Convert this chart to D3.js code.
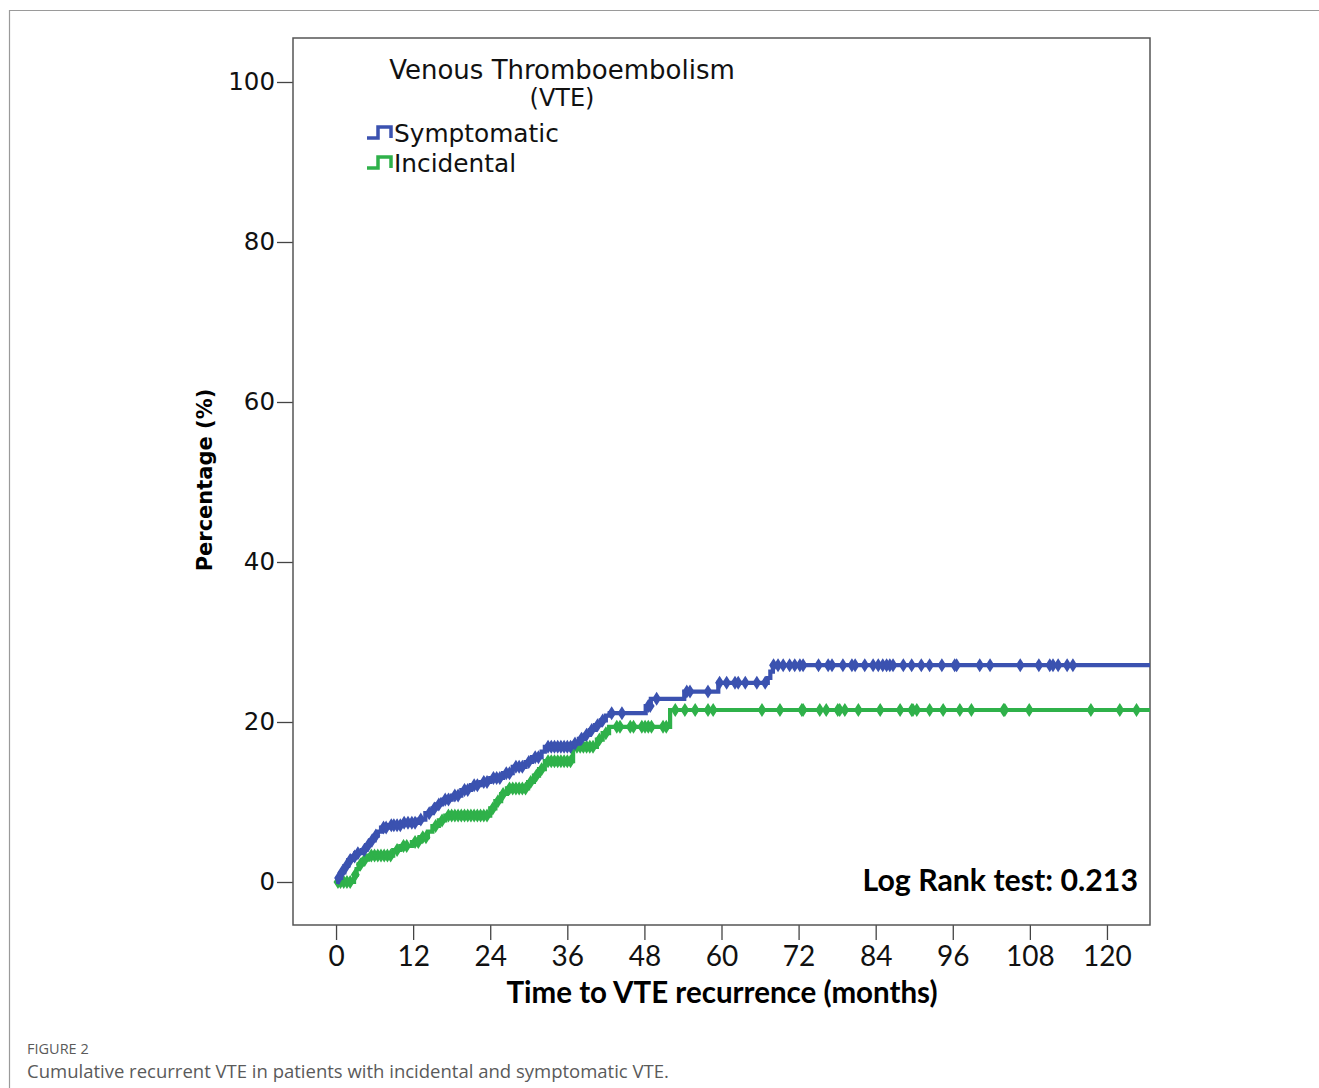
<!DOCTYPE html>
<html>
<head>
<meta charset="utf-8">
<script src="https://cdn.jsdelivr.net/npm/d3@7"></script>
<style>
  body { margin: 0; background: #fff; }
  svg { display: block; }
</style>
</head>
<body>
<script>
// step data: [months, cumulative %]
const symptomaticSteps = [
  [0, 0], [0.3, 0.5], [0.8, 1.2], [1.3, 2.0], [1.9, 2.75], [2.5, 3.2], [3.0, 3.6],
  [4.0, 4.0], [4.7, 4.6], [5.3, 5.2], [6.0, 5.8], [6.5, 6.3], [7.0, 6.8], [8.2, 7.1],
  [10.3, 7.4], [12.8, 7.8], [13.9, 8.6], [15.0, 9.2], [15.6, 9.7], [16.5, 10.3],
  [18.0, 10.8], [19.5, 11.5], [21.0, 12.1], [22.5, 12.5], [24.0, 13.0], [26.0, 13.6],
  [27.5, 14.4], [29.5, 15.0], [30.5, 15.6], [32.0, 16.3], [32.5, 16.9], [36.9, 17.3],
  [37.8, 17.9], [38.7, 18.4], [39.5, 19.0], [40.3, 19.6], [41.2, 20.2], [42.0, 20.8],
  [42.6, 21.1], [48.2, 22.0], [49.0, 22.9], [54.2, 23.8], [59.5, 24.9], [67.2, 25.5],
  [67.6, 26.3], [68.0, 27.1], [126.7, 27.1]
];
const incidentalSteps = [
  [0, 0], [2.8, 0.9], [3.2, 1.6], [3.5, 2.2], [4.2, 2.8], [5.0, 3.3], [8.9, 4.0],
  [10.0, 4.5], [11.8, 5.0], [13.0, 5.6], [14.3, 6.3], [15.0, 7.0], [16.0, 7.7],
  [17.0, 8.3], [24.0, 9.2], [24.8, 10.1], [25.7, 11.0], [26.6, 11.7], [29.9, 12.5],
  [30.8, 13.3], [31.6, 14.1], [32.5, 15.1], [36.9, 16.9], [40.6, 17.8], [41.5, 18.6],
  [42.5, 19.4], [52.0, 21.5], [126.7, 21.5]
];
// censored observations (months)
const symptomaticCensored = [
  0.4, 0.9, 1.6, 2.2, 2.9, 3.4, 4.4, 5.0, 5.6, 6.2, 7.4, 7.8, 8.6, 9.0, 9.5, 10.0, 10.6,
  11.2, 11.8, 12.3, 13.2, 14.5, 15.3, 16.0, 17.0, 17.5, 18.5, 19.0, 20.0, 20.5, 21.5, 22.0,
  23.0, 23.5, 24.5, 25.0, 25.5, 26.5, 27.0, 28.0, 28.5, 29.0, 30.0, 31.0, 31.5, 33.0, 33.5,
  34.0, 34.5, 35.0, 35.5, 36.0, 36.5, 37.2, 38.2, 39.0, 39.8, 40.7, 41.5, 42.9, 44.5, 48.6,
  48.9, 49.9, 54.6, 55.1, 57.9, 59.7, 60.8, 62.1, 62.6, 63.7, 65.5, 66.8,
  68.1, 68.8, 69.6, 70.6, 71.4, 72.2, 72.7, 75.1, 76.6, 77.2, 78.9, 80.3, 80.8, 82.3, 83.6,
  84.4, 85.1, 85.7, 86.2, 86.7, 88.3, 89.6, 91.1, 92.4, 94.3, 96.3, 96.6, 100.2, 101.8,
  106.5, 109.4, 111.1, 111.6, 112.4, 113.8, 114.7
];
const incidentalCensored = [
  0.3, 0.7, 1.2, 1.7, 2.2, 3.0, 3.8, 4.5, 5.5, 6.0, 6.5, 7.0, 7.5, 8.0, 8.5, 9.5, 10.5,
  11.0, 12.3, 12.8, 13.5, 14.0, 15.5, 16.5, 17.5, 18.0, 18.5, 19.0, 19.5, 20.0, 20.5, 21.0,
  21.5, 22.0, 22.5, 23.0, 23.5, 24.4, 25.2, 26.0, 27.0, 27.5, 28.0, 28.5, 29.0, 29.5, 30.3,
  31.2, 32.0, 33.0, 33.5, 34.0, 34.5, 35.0, 35.5, 36.0, 36.5, 37.5, 38.0, 38.5, 39.0, 39.5,
  40.0, 41.0, 42.0, 43.7, 44.2, 45.8, 46.3, 47.6, 48.1, 48.6, 49.1, 50.9, 51.4, 52.8, 54.3,
  55.9, 57.9, 58.7, 66.3, 69.1, 72.5, 72.7, 75.3, 76.3, 78.1, 78.4, 79.2, 81.3, 84.7, 87.8,
  89.6, 89.8, 90.4, 92.4, 94.5, 97.1, 98.9, 103.9, 104.1, 107.9, 117.5, 122.0, 124.6
];
const xTicks = [0, 12, 24, 36, 48, 60, 72, 84, 96, 108, 120];
const yTicks = [0, 20, 40, 60, 80, 100];
const seriesNames = ["Symptomatic", "Incidental"];
const colors = ["#3b52b0", "#2fb14a"];

const W = 1319, H = 1088;
const svg = d3.select("body").append("svg").attr("width", W).attr("height", H);

// page frame (partial, like the cropped figure)
svg.append("path").attr("d", "M9.5,1088 V10.5 H1319")
  .attr("fill", "none").attr("stroke", "#9a9a9a").attr("stroke-width", 1.2);

const plotL = 293, plotR = 1150, plotT = 38, plotB = 925;
const x = d3.scaleLinear().domain([-6.7, 126.7]).range([plotL, plotR]);
const y = d3.scaleLinear().domain([-5.375, 105.5]).range([plotB, plotT]);

// y axis
const yAxis = svg.append("g").attr("transform", `translate(${plotL},0)`)
  .call(d3.axisLeft(y).tickValues(yTicks).tickSize(16).tickPadding(2));
yAxis.select(".domain").remove();
yAxis.selectAll("line").attr("stroke", "#444").attr("stroke-width", 1.3);
yAxis.selectAll("text").attr("font-family", "DejaVu Sans").attr("font-size", 24.5)
  .attr("fill", "#111");

// x axis
const xAxis = svg.append("g").attr("transform", `translate(0,${plotB})`)
  .call(d3.axisBottom(x).tickValues(xTicks).tickSize(15).tickPadding(6));
xAxis.select(".domain").remove();
xAxis.selectAll("line").attr("stroke", "#444").attr("stroke-width", 1.3);
xAxis.selectAll("text").attr("font-family", "Lato").attr("font-size", 28)
  .attr("fill", "#111");

// frame
svg.append("rect").attr("x", plotL).attr("y", plotT)
  .attr("width", plotR - plotL).attr("height", plotB - plotT)
  .attr("fill", "none").attr("stroke", "#555").attr("stroke-width", 1.5);

// axis titles
svg.append("text").attr("x", 722).attr("y", 1003).attr("text-anchor", "middle")
  .attr("font-family", "Lato").attr("font-weight", "bold").attr("font-size", 29.5)
  .attr("fill", "#000").text("Time to VTE recurrence (months)");
svg.append("text").attr("transform", "translate(212,480) rotate(-90)")
  .attr("text-anchor", "middle").attr("font-family", "DejaVu Sans")
  .attr("font-weight", "bold").attr("font-size", 21).attr("fill", "#000")
  .text("Percentage (%)");

// curves
const line = d3.line().x(d => x(d[0])).y(d => y(d[1])).curve(d3.curveStepAfter);
const stepAt = (steps, t) => {
  let v = 0;
  steps.forEach(s => { if (s[0] <= t) v = s[1]; });
  return v;
};
const series = [
  { steps: symptomaticSteps, cens: symptomaticCensored, color: colors[0] },
  { steps: incidentalSteps, cens: incidentalCensored, color: colors[1] }
];
// draw incidental first so symptomatic sits on top like the original
series.slice().reverse().forEach(s => {
  const g = svg.append("g");
  g.append("path").attr("d", line(s.steps)).attr("fill", "none")
    .attr("stroke", s.color).attr("stroke-width", 4.2);
  g.selectAll("path.cens").data(s.cens).enter().append("path").attr("class", "cens")
    .attr("d", d => {
      const cx = x(d), cy = y(stepAt(s.steps, d));
      return `M${cx},${cy - 5.5} L${cx + 3.5},${cy} L${cx},${cy + 5.5} L${cx - 3.5},${cy} Z`;
    })
    .attr("fill", s.color).attr("stroke", s.color).attr("stroke-width", 1.6);
});

// legend
const leg = svg.append("g");
leg.append("text").attr("x", 562).attr("y", 79).attr("text-anchor", "middle")
  .attr("font-family", "DejaVu Sans").attr("font-size", 26).attr("fill", "#111")
  .text("Venous Thromboembolism");
leg.append("text").attr("x", 562).attr("y", 106).attr("text-anchor", "middle")
  .attr("font-family", "DejaVu Sans").attr("font-size", 24).attr("fill", "#111")
  .text("(VTE)");
seriesNames.forEach((name, i) => {
  const by = 138 + i * 30;
  leg.append("path").attr("d", `M367,${by} H378 V${by - 11} H391 V${by}`)
    .attr("fill", "none").attr("stroke", colors[i]).attr("stroke-width", 3.5);
  leg.append("text").attr("x", 394).attr("y", by + 4)
    .attr("font-family", "DejaVu Sans").attr("font-size", 24.8).attr("fill", "#111")
    .text(name);
});

// log rank
svg.append("text").attr("x", 1138).attr("y", 891).attr("text-anchor", "end")
  .attr("font-family", "Lato").attr("font-weight", "bold").attr("font-size", 30.3)
  .attr("fill", "#000").text("Log Rank test: 0.213");

// caption
svg.append("text").attr("x", 27).attr("y", 1054)
  .attr("font-family", "Open Sans").attr("font-size", 14.5).attr("fill", "#5a5a5a")
  .text("FIGURE 2");
svg.append("text").attr("x", 27).attr("y", 1078)
  .attr("font-family", "Open Sans").attr("font-size", 18.5).attr("fill", "#5a5a5a")
  .text("Cumulative recurrent VTE in patients with incidental and symptomatic VTE.");
</script>
</body>
</html>
